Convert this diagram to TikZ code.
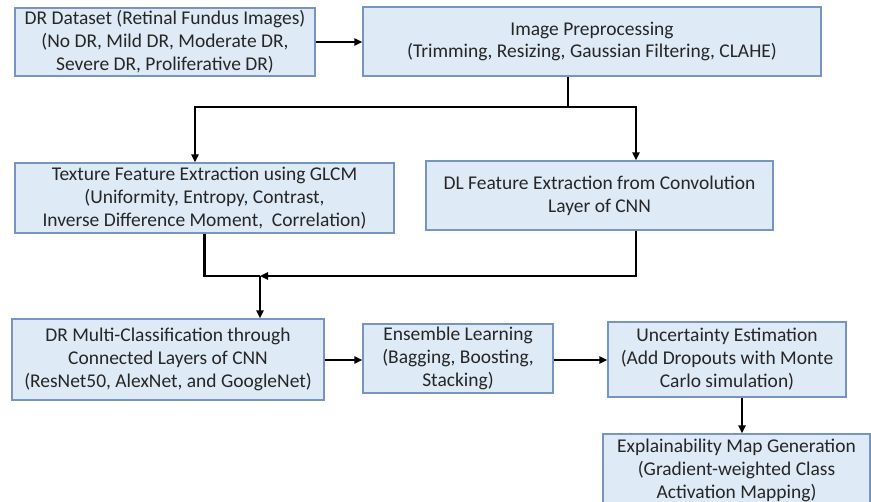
\documentclass[tikz,border=0pt]{standalone}
\usepackage{fontspec}
\setmainfont{Carlito}
\usetikzlibrary{arrows.meta}

\definecolor{boxfill}{RGB}{222,234,246}
\definecolor{boxline}{RGB}{118,149,192}
\definecolor{txt}{RGB}{38,38,38}

\tikzset{every picture/.style={line width=0.75pt}}
\tikzset{
  stage/.style={draw=boxline, fill=boxfill, line width=1.1pt, rectangle, inner sep=0pt,
    align=center, text=txt, font=\fontsize{14.6}{17.2}\selectfont},
  flow/.style={draw=black, line width=1.7pt, -{Triangle[length=6pt,width=5.5pt]}},
  link/.style={draw=black, line width=1.7pt}
}

\begin{document}
\begin{tikzpicture}[x=0.75pt,y=0.75pt,yscale=-1]
\useasboundingbox (0,0) rectangle (871,502);

% Text Node
\node [stage, minimum width=300*0.75pt, minimum height=68*0.75pt] (dataset) at (165,42) {DR Dataset (Retinal Fundus Images)\\(No DR, Mild DR, Moderate DR,\\Severe DR, Proliferative DR)};
% Text Node
\node [stage, minimum width=458*0.75pt, minimum height=69*0.75pt] (prep) at (592,41.5) {Image Preprocessing\\(Trimming, Resizing, Gaussian Filtering, CLAHE)};
% Text Node
\node [stage, minimum width=379*0.75pt, minimum height=70*0.75pt] (glcm) at (204.5,198) {Texture Feature Extraction using GLCM\\(Uniformity, Entropy, Contrast,\\Inverse Difference Moment,\ \ Correlation)};
% Text Node
\node [stage, minimum width=347*0.75pt, minimum height=69*0.75pt] (dlfeat) at (599.5,195.5) {DL Feature Extraction from Convolution\\Layer of CNN};
% Text Node
\node [stage, minimum width=312*0.75pt, minimum height=81*0.75pt] (multi) at (168,359.5) {DR Multi-Classification through\\Connected Layers of CNN\\(ResNet50, AlexNet, and GoogleNet)};
% Text Node
\node [stage, minimum width=190*0.75pt, minimum height=69*0.75pt] (ensemble) at (458,358.5) {Ensemble Learning\\(Bagging, Boosting,\\Stacking)};
% Text Node
\node [stage, minimum width=238*0.75pt, minimum height=75*0.75pt] (uncert) at (727,359.5) {Uncertainty Estimation\\(Add Dropouts with Monte\\Carlo simulation)};
% Text Node
\node [stage, minimum width=267*0.75pt, minimum height=72*0.75pt] (explain) at (736.5,470) {Explainability Map Generation\\(Gradient-weighted Class\\Activation Mapping)};

% branch and merge points
\coordinate (split) at (568,107);
\coordinate (left) at (195,107);
\coordinate (right) at (636,107);
\coordinate (merge) at (260,276);
\coordinate (uncx) at (742,0);

%Straight Lines
\draw [flow] (dataset.east) -- (dataset.east -| prep.west);
\draw [link] (prep.south -| split) -- (split);
\draw [flow] (split) -- (left) -- (glcm.north -| left);
\draw [flow] (split) -- (right) -- (dlfeat.north -| right);
\draw [link] (glcm.south) |- (merge);
\draw [flow] (dlfeat.south -| right) |- (merge);
\draw [flow] (merge) -- (multi.north -| merge);
\draw [flow] (multi.east |- 0,360) -- (ensemble.west |- 0,360);
\draw [flow] (ensemble.east |- 0,360) -- (uncert.west |- 0,360);
\draw [flow] (uncert.south -| uncx) -- (explain.north -| uncx);

\end{tikzpicture}
\end{document}
